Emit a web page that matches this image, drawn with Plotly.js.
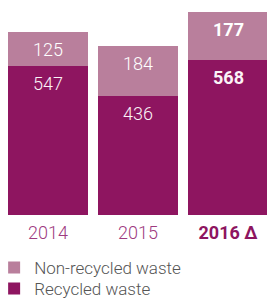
<!DOCTYPE html>
<html>
<head>
<meta charset="utf-8">
<script src="https://cdn.plot.ly/plotly-3.0.1.min.js"></script>
<style>html,body{margin:0;padding:0;background:#fff;}#chart{width:267px;height:298px;}</style>
</head>
<body>
<div id="chart"></div>
<script>
var categories = ["2014", "2015", "2016"];
var tickLabels = ["2014", "2015", "<span style='color:#8e1560'><b>2016 Δ</b></span>"];
var recycled = [547, 436, 568];
var nonRecycled = [125, 184, 177];
var boldFlags = [false, false, true];

var darkColor = "#8e1560";
var lightColor = "#b97f9c";

var traces = [
  {type: "bar", name: "Recycled waste", x: categories, y: recycled, legend: "legend2",
   marker: {color: darkColor}, hoverinfo: "none"},
  {type: "bar", name: "Non-recycled waste", x: categories, y: nonRecycled, legend: "legend",
   marker: {color: lightColor}, hoverinfo: "none"}
];

var annotations = [];
categories.forEach(function (c, i) {
  var fmt = function (v) { return boldFlags[i] ? "<b>" + v + "</b>" : String(v); };
  annotations.push({x: i, y: recycled[i], xref: "x", yref: "y", text: fmt(recycled[i]),
    showarrow: false, yanchor: "top", yshift: -5,
    font: {family: "Roboto", size: 18, color: "#fbf3f7", weight: 300}});
  annotations.push({x: i, y: recycled[i] + nonRecycled[i], xref: "x", yref: "y", text: fmt(nonRecycled[i]),
    showarrow: false, yanchor: "top", yshift: -5,
    font: {family: "Roboto", size: 18, color: "#ffffff", weight: 300}});
});

var legendFont = {family: "Roboto", size: 17, color: "#555555", weight: 300};

var layout = {
  width: 267, height: 298,
  margin: {l: 0, r: 0, t: 0, b: 0, pad: 0, autoexpand: false},
  paper_bgcolor: "#ffffff", plot_bgcolor: "rgba(0,0,0,0)",
  barmode: "stack", bargap: 0.111,
  font: {family: "Roboto", color: "#555555"},
  xaxis: {type: "category", range: [-0.533, 2.433], autorange: false, showgrid: false, zeroline: false,
    showline: false, ticks: "", tickvals: categories, ticktext: tickLabels, tickangle: 0,
    ticklabelstandoff: 5, automargin: false,
    tickfont: {family: "Roboto", size: 18, color: "#9e3a7f", weight: 300}, fixedrange: true},
  yaxis: {range: [0, 789], autorange: false, domain: [0.2785, 1], visible: false, fixedrange: true},
  showlegend: true,
  legend: {orientation: "v", x: -0.022, xanchor: "left", y: 0.1611, yanchor: "top",
    font: legendFont, itemwidth: 30, bgcolor: "rgba(0,0,0,0)"},
  legend2: {orientation: "v", x: -0.022, xanchor: "left", y: 0.0905, yanchor: "top",
    font: legendFont, itemwidth: 30, bgcolor: "rgba(0,0,0,0)"},
  annotations: annotations
};

Plotly.newPlot("chart", traces, layout, {displayModeBar: false, staticPlot: true});
</script>
</body>
</html>
